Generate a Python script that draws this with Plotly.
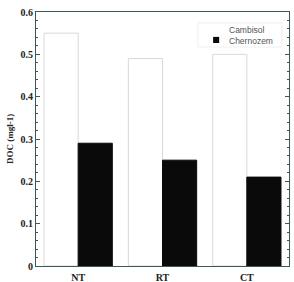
import plotly.graph_objects as go

categories = ["NT", "RT", "CT"]
cambisol = [0.55, 0.49, 0.50]
chernozem = [0.29, 0.25, 0.21]
y_ticks = [0, 0.1, 0.2, 0.3, 0.4, 0.5, 0.6]
y_tick_labels = ["0", "0.1", "0.2", "0.3", "0.4", "0.5", "0.6"]
legend_names = ["Cambisol", "Chernozem"]

serif = "Liberation Serif"
axis_color = "#3a5a5a"

fig = go.Figure()
fig.add_trace(go.Bar(
    x=categories, y=cambisol, name=legend_names[0], showlegend=False,
    marker=dict(color="white", line=dict(color="#d8d8d8", width=1)),
))
fig.add_trace(go.Bar(
    x=categories, y=chernozem, name=legend_names[1], showlegend=False,
    marker=dict(color="#0a0a0a", line=dict(color="#0a0a0a", width=1)),
))

# compact legend box (drawn in paper coordinates)
fig.add_shape(type="rect", xref="paper", yref="paper",
              x0=0.640, x1=0.972, y0=0.862, y1=0.957,
              fillcolor="white", line=dict(color="#eeeeee", width=1), layer="above")
fig.add_shape(type="rect", xref="paper", yref="paper",
              x0=0.700, x1=0.724, y0=0.878, y1=0.902,
              fillcolor="#0a0a0a", line=dict(width=0), layer="above")
fig.add_annotation(xref="paper", yref="paper", x=0.755, y=0.909,
                   xanchor="left", yanchor="middle", align="left", showarrow=False,
                   text="<br>".join(legend_names),
                   font=dict(family="Liberation Sans", size=8.5, color="#555555"))

fig.update_layout(
    width=294, height=282,
    margin=dict(l=36, r=5, t=12, b=16),
    paper_bgcolor="white", plot_bgcolor="white",
    barmode="group", bargap=0.19, bargroupgap=0,
    showlegend=False,
    xaxis=dict(
        showline=True, linecolor=axis_color, linewidth=1, mirror=True,
        ticks="", showgrid=False, automargin=False,
        tickfont=dict(family=serif, size=10, color="#222222", weight="bold"),
        ticklabelstandoff=2,
    ),
    yaxis=dict(
        range=[0, 0.6], tickvals=y_ticks, ticktext=y_tick_labels,
        showline=True, linecolor=axis_color, linewidth=1, mirror="ticks",
        ticks="inside", ticklen=4, tickcolor=axis_color,
        minor=dict(ticks="inside", ticklen=2, tickcolor=axis_color, dtick=0.02),
        showgrid=False, zeroline=False, automargin=False,
        tickfont=dict(family=serif, size=10, color="#222222", weight="bold"),
        title=dict(text="DOC (mgl-1)", standoff=5,
                   font=dict(family=serif, size=9, color="#222222", weight="bold")),
    ),
)

fig.write_html("out.html")
